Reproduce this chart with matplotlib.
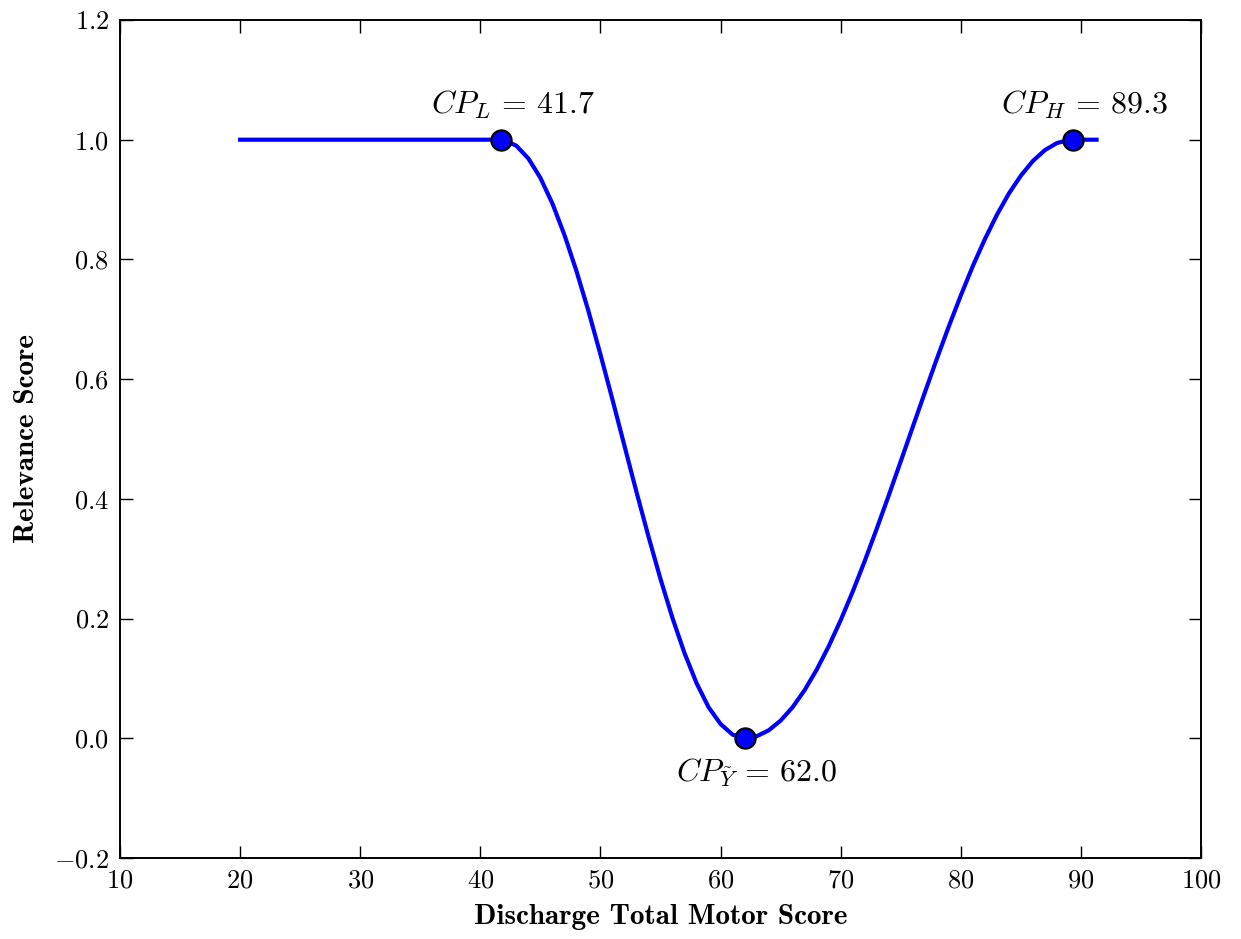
import numpy as np
import matplotlib.pyplot as plt

plt.rcParams['font.family'] = 'cmr10'
plt.rcParams['mathtext.fontset'] = 'cm'
plt.rcParams['axes.formatter.use_mathtext'] = True

# curve
x_curve = [20, 30, 41.7, 42, 43, 44, 45, 46, 47, 48, 49, 50, 51, 52, 53, 54, 55, 56, 57, 58, 59, 60, 61,
           62, 63, 64, 65, 66, 67, 68, 69, 70, 71, 72, 73, 74, 75, 76, 77, 78, 79, 80, 81, 82, 83, 84,
           85, 86, 87, 88, 89, 89.3, 91.3]
y_curve = [1.0, 1.0, 1.0, 0.9995, 0.9899, 0.9686, 0.9362, 0.8933, 0.8410, 0.7807, 0.7137, 0.6411,
           0.5657, 0.4884, 0.4114, 0.3369, 0.2660, 0.2006, 0.1421, 0.0921, 0.0519, 0.0238, 0.0060,
           0.0, 0.0033, 0.0132, 0.0295, 0.0520, 0.0805, 0.1145, 0.1536, 0.1973, 0.2450, 0.2961,
           0.3500, 0.4057, 0.4627, 0.5202, 0.5774, 0.6337, 0.6880, 0.7398, 0.7889, 0.8337, 0.8743,
           0.9100, 0.9400, 0.9644, 0.9826, 0.9944, 0.9997, 1.0, 1.0]

cp_x = [41.7, 62.0, 89.3]
cp_y = [1.0, 0.0, 1.0]
cp_labels = [r'$CP_L\,=\,41.7$', r'$CP_{\tilde{Y}}\,=\,62.0$', r'$CP_H\,=\,89.3$']

fig = plt.figure(figsize=(12.41, 9.39), dpi=100)
ax = fig.add_axes([0.0967, 0.0863, 0.8711, 0.8924])

ax.plot(x_curve, y_curve, color='blue', lw=3, zorder=2)
ax.plot(cp_x, cp_y, 'o', color='blue', mec='black', mew=1.6, ms=14.5, zorder=3)

for xx, yy, lab in zip(cp_x, cp_y, cp_labels):
    if yy > 0.5:
        ax.text(xx + 1.0, yy + 0.032, lab, ha='center', va='bottom', fontsize=23)
    else:
        ax.text(xx + 1.0, yy - 0.03, lab, ha='center', va='top', fontsize=23)

ax.set_xlim(10, 100)
ax.set_ylim(-0.2, 1.2)
ax.set_xticks(np.arange(10, 101, 10))
ax.set_yticks(np.arange(-0.2, 1.21, 0.2))
ax.tick_params(direction='in', length=9, width=1, labelsize=19, top=True, right=True, pad=8)
for s in ax.spines.values():
    s.set_linewidth(1.4)

ax.set_xlabel('Discharge Total Motor Score', fontsize=21, fontfamily='cmb10', labelpad=8)
ax.set_ylabel('Relevance Score', fontsize=21, fontfamily='cmb10', labelpad=10)

fig.savefig('out.png', dpi=100)
